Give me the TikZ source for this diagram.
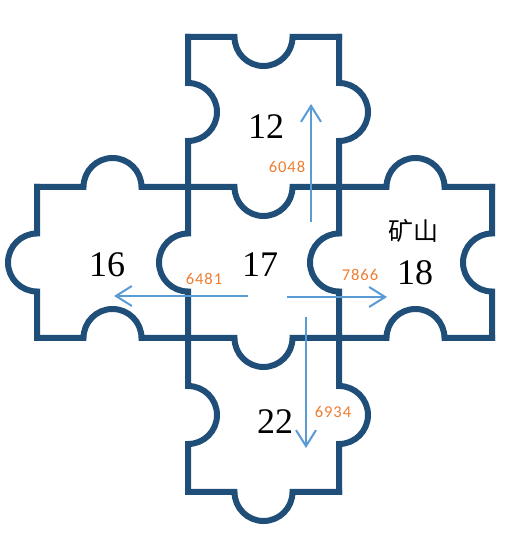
\documentclass[tikz,border=0pt]{standalone}
\usepackage{fontspec}
\setmainfont{Liberation Serif}
\newfontfamily\numfont[LetterSpace=6]{Carlito}
\newfontfamily\cjkfont{Noto Sans CJK SC}
\usetikzlibrary{arrows.meta}
\definecolor{edgeblue}{HTML}{1F4E79}
\definecolor{arrowblue}{HTML}{5B9BD5}
\definecolor{numorange}{HTML}{ED7D31}
\begin{document}
\begin{tikzpicture}[x=1pt,y=1pt,
  piece/.style={draw=edgeblue,line width=6pt,line join=miter,line cap=rect},
  flow/.style={draw=arrowblue,line width=2pt,-{Straight Barb[length=16pt,width=20pt,line width=2pt]}},
  big/.style={font=\fontsize{36}{36}\selectfont,inner sep=0pt},
  cjk/.style={font=\cjkfont\fontsize{25}{25}\selectfont,inner sep=0pt},
  small/.style={font=\numfont\fontsize{16.5}{16.5}\selectfont,text=numorange,inner sep=0pt}]
\useasboundingbox (0,0) rectangle (517,537);
% horizontal lines
\draw[piece] (188,500) -- (234.5,500) arc[start angle=180,end angle=360,radius=29] -- (339,500);
\draw[piece] (37,350) -- (83.5,350) arc[start angle=180,end angle=0,radius=29]
  -- (234.5,350) arc[start angle=180,end angle=360,radius=29]
  -- (386.5,350) arc[start angle=180,end angle=0,radius=29] -- (492,350);
\draw[piece] (37,199) -- (83.5,199) arc[start angle=180,end angle=0,radius=29]
  -- (234.5,199) arc[start angle=180,end angle=360,radius=29]
  -- (386.5,199) arc[start angle=180,end angle=0,radius=29] -- (492,199);
\draw[piece] (188,45) -- (234.5,45) arc[start angle=180,end angle=360,radius=29] -- (339,45);
% vertical lines
\draw[piece] (188,500) -- (188,454) arc[start angle=90,end angle=-90,radius=29]
  -- (188,303.5) arc[start angle=90,end angle=270,radius=29]
  -- (188,151) arc[start angle=90,end angle=-90,radius=29] -- (188,45);
\draw[piece] (339,500) -- (339,454) arc[start angle=90,end angle=-90,radius=29]
  -- (339,303.5) arc[start angle=90,end angle=270,radius=29]
  -- (339,151) arc[start angle=90,end angle=-90,radius=29] -- (339,45);
\draw[piece] (37,350) -- (37,303.5) arc[start angle=90,end angle=270,radius=29] -- (37,199);
\draw[piece] (492,350) -- (492,303.5) arc[start angle=90,end angle=270,radius=29] -- (492,199);
% labels
\node[big] (n12) at (266,410) {12};
\node[big] (n16) at (107,272) {16};
\node[big] (n17) at (260,272) {17};
\node[big] (n18) at (415,264) {18};
\node[cjk] (mine) at (413,306) {矿山};
\node[big] (n22) at (275,115) {22};
\node[small] (v6048) at (287,370) {6048};
\node[small] (v6481) at (204,258) {6481};
\node[small] (v7866) at (360,262) {7866};
\node[small] (v6934) at (333,125) {6934};
% arrows
\coordinate (upS) at (311,315);
\coordinate (upE) at (311,433);
\coordinate (lfS) at (248,241);
\coordinate (lfE) at (114,241);
\coordinate (rtS) at (287,240);
\coordinate (rtE) at (387,240);
\coordinate (dnS) at (306,220);
\coordinate (dnE) at (306,89);
\draw[flow] (upS) -- (upE);
\draw[flow] (lfS) -- (lfE);
\draw[flow] (rtS) -- (rtE);
\draw[flow] (dnS) -- (dnE);
\end{tikzpicture}
\end{document}
